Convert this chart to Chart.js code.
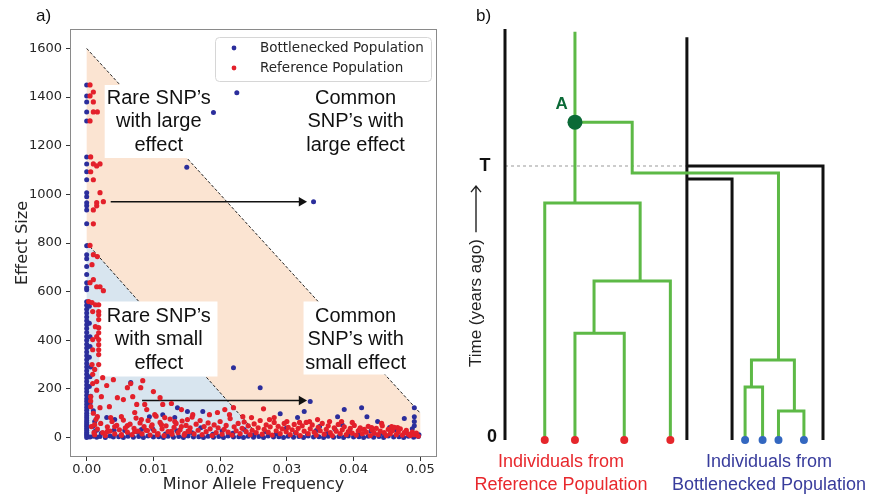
<!DOCTYPE html>
<html>
<head>
<meta charset="utf-8">
<script src="https://cdn.jsdelivr.net/npm/chart.js@4.4.1/dist/chart.umd.min.js"></script>
<style>
  html, body { margin: 0; padding: 0; background: #fff; }
  #wrap { position: relative; width: 872px; height: 494px; overflow: hidden; }
  #chartA { position: absolute; left: 0; top: 0; }
  #chartB { position: absolute; left: 440px; top: 0; }
</style>
</head>
<body>
<div id="wrap">
  <canvas id="chartA" width="445" height="494"></canvas>
  <canvas id="chartB" width="432" height="494"></canvas>
</div>
<script>
// ---- panel a) data ----
const seriesNames = ['Bottlenecked Population', 'Reference Population'];
const xTicks = [0, 0.01, 0.02, 0.03, 0.04, 0.05];
const yTicks = [0, 200, 400, 600, 800, 1000, 1200, 1400, 1600];

// [minor allele frequency, effect size]
const bottlenecked = [
  [0,0],[0,8],[0,15],[0,22],[0,30],[0,38],[0,46],[0,54],[0,62],[0,70],[0,80],[0,90],[0,100],[0,112],[0,124],
  [0,136],[0,148],[0,160],[0,174],[0,188],[0,202],[0,216],[0,230],[0,245],[0,260],[0,275],[0,290],[0,305],
  [0,320],[0,336],[0,352],[0,368],[0,384],[0,400],[0,416],[0,432],[0,448],[0,464],[0,480],[0,496],[0,512],
  [0,528],[0,544],[0,558],[0,608],[0,616],[0,637],[0,670],[0,703],[0,735],[0,752],[0,789],[0,879],[0,936],
  [0,953],[0,966],[0,990],[0,1007],[0,1060],[0,1093],[0,1125],[0,1154],[0,1302],[0,1339],[0,1380],[0,1405],[0,1450],
  [0.0004,540],[0.0004,470],[0.0005,415],[0.0005,374],[0.0004,330],[0.0006,290],[0.0005,250],[0.0004,210],
  [0.0006,170],[0.0005,140],[0.001,110],[0.0012,66],[0.0009,45],[0.0015,30],[0.003,82],[0.0042,74],[0.0012,25],
  [0.0057,29],[0.0082,33],[0.0066,226],[0.0094,86],[0.0114,94],[0.0132,82],[0.0136,123],[0.0151,107],[0.0174,107],
  [0.015,1112],[0.019,1337],[0.0225,1418],[0.034,970],[0.022,287],[0.026,205],[0.029,98],[0.0316,82],[0.0326,107],
  [0.0335,148],[0.0376,86],[0.0386,115],[0.0412,123],[0.042,86],[0.0436,66],[0.0476,78],[0.0491,123],[0.0491,86],
  [0.0491,66],[0.0491,49],[0.0454,41],[0.0349,45],[0.0383,53],[0.0498,12],
  [0.0022,18],[0.0041,30],[0.0063,12],[0.0077,22],[0.0099,35],[0.0118,15],[0.0135,28],[0.0158,20],[0.0171,40],
  [0.0189,14],[0.0203,27],[0.0219,18],[0.0236,33],[0.0251,12],[0.0268,24],[0.0284,16],[0.0299,38],[0.0313,20],
  [0.0331,14],[0.0344,29],[0.0361,18],[0.0372,35],[0.0395,22],[0.0407,13],[0.0426,27],[0.0441,17],[0.0463,31],
  [0.0479,20],[0.0488,36],
  [0.0005,2],[0.001,5],[0.0015,1],[0.002,4],[0.0028,0],[0.0035,6],[0.004,2],[0.0048,3],[0.0055,0],[0.0062,5],
  [0.007,1],[0.0078,4],[0.0085,0],[0.0092,6],[0.01,2],[0.0108,3],[0.0115,0],[0.0122,5],[0.013,1],[0.0138,4],
  [0.0145,0],[0.0152,6],[0.016,2],[0.0168,3],[0.0175,0],[0.0182,5],[0.019,1],[0.0198,4],[0.0205,0],[0.0212,6],
  [0.022,2],[0.0228,3],[0.0235,0],[0.0242,5],[0.025,1],[0.0258,4],[0.0265,0],[0.0272,6],[0.028,2],[0.0288,3],
  [0.0295,0],[0.0302,5],[0.031,1],[0.0318,4],[0.0325,0],[0.0332,6],[0.034,2],[0.0348,3],[0.0355,0],[0.0362,5],
  [0.037,1],[0.0378,4],[0.0385,0],[0.0392,6],[0.04,2],[0.0408,3],[0.0415,0],[0.0422,5],[0.043,1],[0.0438,4],
  [0.0445,0],[0.0452,6],[0.046,2],[0.0468,3],[0.0475,0],[0.0482,5],[0.049,1],[0.0497,4]
];

const reference = [
  [0.0005,1450],[0.001,1421],[0.0005,1405],[0.001,1380],[0.001,1339],[0.0016,1339],[0.0005,1302],[0.0006,1154],
  [0.001,1125],[0.0015,1117],[0.002,1125],[0.0006,1093],[0.001,1060],[0.002,1007],[0.0015,966],[0.0025,970],
  [0.001,936],[0.0015,953],[0.001,879],[0.0005,790],
  [0.001,752],[0.0016,744],[0.0008,711],[0.001,649],[0.0015,620],[0.002,620],[0.0025,604],[0.0005,637],[0.0003,559],
  [0.0008,555],[0.0013,546],[0.0018,546],[0.0018,518],[0.0018,505],[0.0018,485],[0.0018,452],[0.0018,431],
  [0.0018,403],[0.0018,382],[0.0018,361],[0.0018,341],[0.0009,518],[0.0009,403],[0.0009,361],[0.0015,415],[0.0013,456],
  [0.0008,300],[0.0012,280],[0.0009,260],[0.0018,300],[0.0015,195],[0.0006,150],[0.001,100],[0.0014,75],[0.0007,45],[0.0011,20],
  [0.0009,222],[0.0015,230],[0.0024,246],[0.003,214],[0.004,238],[0.0061,205],[0.0066,222],[0.0084,234],[0.0081,205],
  [0.01,189],[0.0006,168],[0.0006,127],[0.0022,168],[0.002,123],[0.0034,127],[0.0046,164],[0.0055,156],[0.0069,168],
  [0.0075,136],[0.0087,136],[0.009,115],[0.011,164],[0.0114,136],[0.0127,140],[0.0142,115],[0.0072,103],[0.0102,94],
  [0.0016,86],[0.0036,82],[0.0052,86],[0.0082,74],[0.0117,82],[0.0132,66],[0.0151,74],[0.0012,53],[0.0042,45],
  [0.0061,49],[0.0097,45],[0.0112,53],[0.0142,45],[0.0031,25],[0.0072,25],[0.0091,29],[0.0127,25],[0.0154,25],
  [0.0052,12],[0.0106,12],[0.0147,16],
  [0.022,123],[0.0265,118],[0.0184,94],[0.0196,103],[0.0207,115],[0.0214,94],[0.0159,94],[0.0234,86],[0.0247,82],
  [0.0274,74],[0.0281,82],[0.03,66],[0.0319,62],[0.0334,66],[0.0364,66],[0.0382,66],[0.0346,74],[0.0398,62],
  [0.0442,58],[0.0457,45],[0.0466,41],[0.0427,41],[0.0409,33],
  [0.0012,12],[0.0016,35],[0.0021,58],[0.0024,20],[0.0028,8],[0.0031,44],[0.0035,27],[0.0038,66],[0.0042,15],
  [0.0045,50],[0.0049,32],[0.0052,9],[0.0055,72],[0.0058,40],[0.0061,22],[0.0065,55],[0.0068,12],[0.0071,38],
  [0.0074,80],[0.0077,26],[0.008,60],[0.0083,15],[0.0086,45],[0.0089,30],[0.0092,70],[0.0095,10],[0.0098,52],
  [0.0101,28],[0.0104,88],[0.0107,16],[0.011,62],[0.0113,36],[0.0116,8],[0.0119,48],[0.0122,24],[0.0125,76],
  [0.0128,14],[0.0131,42],[0.0134,58],[0.0137,20],[0.014,32],[0.0143,68],[0.0146,10],[0.0149,50],[0.0152,26],
  [0.0155,40],[0.0158,84],[0.0161,15],[0.0164,55],[0.0167,30],[0.017,70],[0.0173,12],[0.0176,45],[0.0179,24],
  [0.0182,60],[0.0185,36],[0.0188,8],[0.0191,52],[0.0194,20],[0.0197,40],
  [0.02,66],[0.0203,14],[0.0206,34],[0.0209,50],[0.0212,22],[0.0215,78],[0.0218,10],[0.0221,44],[0.0224,28],
  [0.0227,58],[0.023,16],[0.0233,38],[0.0236,64],[0.0239,24],[0.0242,48],[0.0245,12],[0.0248,30],[0.0251,56],
  [0.0254,20],[0.0257,40],[0.026,70],[0.0263,14],[0.0266,34],[0.0269,52],[0.0272,22],[0.0275,44],[0.0278,10],
  [0.0281,62],[0.0284,28],[0.0287,46],[0.029,16],[0.0293,36],[0.0296,58],[0.0299,24],
  [0.0302,42],[0.0305,12],[0.0308,32],[0.0311,54],[0.0314,20],[0.0317,38],[0.032,8],[0.0323,48],[0.0326,26],
  [0.0329,62],[0.0332,16],[0.0335,36],[0.0338,52],[0.0341,22],[0.0344,10],[0.0347,42],[0.035,28],[0.0353,58],
  [0.0356,14],[0.0359,34],[0.0362,48],[0.0365,20],[0.0368,8],[0.0371,40],[0.0374,26],[0.0377,54],[0.038,16],
  [0.0383,32],[0.0386,44],[0.0389,12],[0.0392,24],[0.0395,38],[0.0398,18],
  [0.0401,50],[0.0404,10],[0.0407,28],[0.041,40],[0.0413,16],[0.0416,34],[0.0419,22],[0.0422,46],[0.0425,8],
  [0.0428,30],[0.0431,18],[0.0434,38],[0.0437,12],[0.044,26],[0.0443,48],[0.0446,20],[0.0449,8],[0.0452,34],
  [0.0455,16],[0.0458,28],[0.0461,42],[0.0464,12],[0.0467,24],[0.047,36],[0.0473,10],[0.0476,20],[0.0479,30],
  [0.0482,14],[0.0485,8],[0.0488,22],[0.0491,12],[0.0494,18],[0.0497,6]
];

// shaded regions and guide lines (data units)
const largeRegion = [[0, 1600], [0.05, 100], [0.05, 0], [0.026, 0], [0, 800]];
const smallRegion = [[0, 800], [0.026, 0], [0, 0]];
const largeEdge = [[0, 1600], [0.05, 100]];
const smallEdge = [[0, 800], [0.026, 0]];
const arrowLarge = [[0.0036, 970], [0.0322, 970]];
const arrowSmall = [[0.0083, 152], [0.0322, 152]];
const labelBoxes = [
  [0.0027, 1150, 0.0189, 1450],
  [0.0019, 251, 0.0196, 559],
  [0.0325, 259, 0.0479, 559]
];
const regionLabels = [
  ['Rare SNP’s', 'with large', 'effect'],
  ['Common', 'SNP’s with', 'large effect'],
  ['Rare SNP’s', 'with small', 'effect'],
  ['Common', 'SNP’s with', 'small effect']
];
const labelAnchors = [[0.0108, 1298], [0.0403, 1298], [0.0108, 403], [0.0403, 403]];

const blue = '#2b2e9c';
const red = '#e3202b';
const mplFont = "'DejaVu Sans', sans-serif";
const sansFont = "'Liberation Sans', Arial, sans-serif";

const pts = arr => arr.map(([x, y]) => ({ x, y }));
const boxPoly = ([x0, y0, x1, y1]) => [{ x: x0, y: y0 }, { x: x1, y: y0 }, { x: x1, y: y1 }, { x: x0, y: y1 }];

const shape = (data, color, order) => ({
  data, showLine: true, fill: 'shape', backgroundColor: color, borderColor: 'transparent',
  borderWidth: 0, pointRadius: 0, order
});
const dashed = data => ({
  data: pts(data), showLine: true, fill: false, borderColor: '#222', borderWidth: 1,
  borderDash: [3, 2], pointRadius: 0, order: 9
});
const arrow = data => ({
  data: pts(data), showLine: true, fill: false, borderColor: '#111', borderWidth: 1.5,
  pointRadius: [0, 5.5], pointStyle: 'triangle', pointRotation: 90,
  pointBackgroundColor: '#111', pointBorderWidth: 0, order: 3
});

const panelA = {
  id: 'panelA',
  afterDatasetsDraw(chart) {
    const { ctx, scales: { x, y } } = chart;
    ctx.save();
    ctx.fillStyle = '#111';
    ctx.font = '20px ' + sansFont;
    ctx.textAlign = 'center';
    ctx.textBaseline = 'middle';
    regionLabels.forEach((lines, i) => {
      const cx = x.getPixelForValue(labelAnchors[i][0]);
      const cy = y.getPixelForValue(labelAnchors[i][1]);
      lines.forEach((t, j) => ctx.fillText(t, cx, cy + (j - 1) * 23.5));
    });
    ctx.restore();
  },
  afterDraw(chart) {
    const { ctx, chartArea: a } = chart;
    ctx.save();
    // axes frame
    ctx.strokeStyle = '#8a8a8a';
    ctx.lineWidth = 1;
    ctx.strokeRect(a.left + 0.5, a.top + 0.5, a.right - a.left - 1, a.bottom - a.top - 1);
    // legend
    const lx = 215, ly = 37, lw = 216, lh = 44;
    ctx.beginPath();
    ctx.roundRect(lx + 0.5, ly + 0.5, lw, lh, 4);
    ctx.fillStyle = 'rgba(255,255,255,0.85)';
    ctx.fill();
    ctx.strokeStyle = '#d6d6d6';
    ctx.stroke();
    ctx.font = '13.5px ' + mplFont;
    ctx.textBaseline = 'middle';
    ctx.textAlign = 'left';
    [blue, red].forEach((c, i) => {
      const yy = 48 + i * 20;
      ctx.beginPath();
      ctx.arc(234, yy, 2.4, 0, Math.PI * 2);
      ctx.fillStyle = c;
      ctx.fill();
      ctx.fillStyle = '#262626';
      ctx.fillText(seriesNames[i], 260, yy);
    });
    // panel label
    ctx.fillStyle = '#111';
    ctx.font = '17px ' + sansFont;
    ctx.fillText('a)', 36, 16);
    ctx.restore();
  }
};

new Chart(document.getElementById('chartA'), {
  type: 'scatter',
  data: {
    datasets: [
      { label: seriesNames[0], data: pts(bottlenecked), backgroundColor: blue, borderColor: blue,
        pointRadius: 2.5, pointBorderWidth: 0, order: 2 },
      { label: seriesNames[1], data: pts(reference), backgroundColor: red, borderColor: red,
        pointRadius: 2.6, pointBorderWidth: 0, order: 1 },
      shape(pts(largeRegion), '#fbe4d2', 11),
      shape(pts(smallRegion), '#d8e5ef', 10),
      dashed(largeEdge),
      dashed(smallEdge),
      ...labelBoxes.map(b => shape(boxPoly(b), '#ffffff', 8)),
      arrow(arrowLarge),
      arrow(arrowSmall)
    ]
  },
  options: {
    responsive: false,
    animation: false,
    events: [],
    layout: { padding: { top: 29, right: 8, left: 0, bottom: 0 } },
    plugins: { legend: { display: false }, tooltip: { enabled: false } },
    scales: {
      x: {
        type: 'linear', min: -0.0025, max: 0.0525,
        afterBuildTicks: s => { s.ticks = xTicks.map(v => ({ value: v })); },
        afterFit: s => { s.height = 37; },
        ticks: { callback: v => v.toFixed(2), font: { family: mplFont, size: 13 }, color: '#262626',
                 padding: 1, maxRotation: 0, autoSkip: false },
        grid: { display: true, drawOnChartArea: false, drawTicks: true, tickLength: 4, tickColor: '#333' },
        border: { display: false },
        title: { display: true, text: 'Minor Allele Frequency', font: { family: mplFont, size: 16 },
                 color: '#262626', padding: { top: 0, bottom: 0 } }
      },
      y: {
        type: 'linear', min: -80, max: 1680,
        afterBuildTicks: s => { s.ticks = yTicks.map(v => ({ value: v })); },
        afterFit: s => { s.width = 70; },
        ticks: { callback: v => String(v), font: { family: mplFont, size: 13 }, color: '#262626',
                 padding: 4, autoSkip: false },
        grid: { display: true, drawOnChartArea: false, drawTicks: true, tickLength: 4, tickColor: '#333' },
        border: { display: false },
        title: { display: true, text: 'Effect Size', font: { family: mplFont, size: 16 },
                 color: '#262626', padding: { top: 13, bottom: 0 } }
      }
    }
  },
  plugins: [panelA]
});

// ---- panel b) genealogy (x: lineage position, y: time before present, T = 10) ----
const greenPaths = [
  [[22, 14.9], [22, 8.65]],
  [[22, 11.6], [40, 11.6], [40, 9.74], [86, 9.74], [86, 2.92]],
  [[12.5, 0], [12.5, 8.65], [42.5, 8.65], [42.5, 5.8]],
  [[28, 3.9], [28, 5.8], [52, 5.8], [52, 0]],
  [[22, 0], [22, 3.9], [37.5, 3.9], [37.5, 0]],
  [[77.5, 1.93], [77.5, 2.92], [91, 2.92], [91, 1.06]],
  [[75.5, 0], [75.5, 1.93], [81, 1.93], [81, 0]],
  [[86, 0], [86, 1.06], [94, 1.06], [94, 0]]
];
const blackPaths = [
  [[0, 15], [0, 0]],
  [[57.2, 14.7], [57.2, 0]],
  [[57.2, 10], [100, 10], [100, 0]],
  [[57.2, 9.53], [71.4, 9.53], [71.4, 0]]
];
const tLine = [[0, 10], [57.2, 10]];
const nodeA = [[22, 11.6]];
const refTips = [12.5, 22, 37.5, 52];
const botTips = [75.5, 81, 86, 94];

const green = '#5db946';
const darkGreen = '#0b6a37';

const pathSet = (p, color, width, order) => ({
  data: pts(p), showLine: true, fill: false, borderColor: color, borderWidth: width,
  pointRadius: 0, clip: false, order
});
const tipSet = (xs, color) => ({
  data: xs.map(x => ({ x, y: 0 })), backgroundColor: color, borderWidth: 0,
  pointRadius: 4, clip: false, order: 1
});

const panelB = {
  id: 'panelB',
  afterDraw(chart) {
    const { ctx, scales: { x, y } } = chart;
    ctx.save();
    ctx.textBaseline = 'middle';
    ctx.fillStyle = '#111';
    ctx.font = '17px ' + sansFont;
    ctx.textAlign = 'left';
    ctx.fillText('b)', 36, 16);
    ctx.textAlign = 'center';
    ctx.font = 'bold 18px ' + sansFont;
    ctx.fillText('T', 45, y.getPixelForValue(10));
    ctx.fillText('0', 52, y.getPixelForValue(0) - 3);
    ctx.fillStyle = darkGreen;
    ctx.font = 'bold 17px ' + sansFont;
    ctx.fillText('A', x.getPixelForValue(17.8), y.getPixelForValue(12.25));
    // axis title with arrow
    ctx.save();
    ctx.translate(36, 367);
    ctx.rotate(-Math.PI / 2);
    ctx.fillStyle = '#222';
    ctx.font = '17px ' + sansFont;
    ctx.textAlign = 'left';
    ctx.fillText('Time (years ago)', 0, 0);
    const w = ctx.measureText('Time (years ago)').width;
    ctx.strokeStyle = '#222';
    ctx.lineWidth = 1.4;
    ctx.beginPath();
    ctx.moveTo(w + 7, 0);
    ctx.lineTo(w + 53, 0);
    ctx.moveTo(w + 47, -5);
    ctx.lineTo(w + 53, 0);
    ctx.lineTo(w + 47, 5);
    ctx.stroke();
    ctx.restore();
    // population labels
    ctx.font = '18px ' + sansFont;
    ctx.fillStyle = '#e8282d';
    ctx.fillText('Individuals from', 121, 462);
    ctx.fillText('Reference Population', 121, 485);
    ctx.fillStyle = '#383c9c';
    ctx.fillText('Individuals from', 329, 462);
    ctx.fillText('Bottlenecked Population', 329, 485);
    ctx.restore();
  }
};

new Chart(document.getElementById('chartB'), {
  type: 'scatter',
  data: {
    datasets: [
      { data: pts(tLine), showLine: true, fill: false, borderColor: '#9a9a9a', borderWidth: 1,
        borderDash: [3, 3], pointRadius: 0, clip: false, order: 6 },
      ...blackPaths.map(p => pathSet(p, '#111', 3, 5)),
      ...greenPaths.map(p => pathSet(p, green, 3, 4)),
      { data: pts(nodeA), backgroundColor: darkGreen, borderWidth: 0, pointRadius: 7.5, clip: false, order: 2 },
      tipSet(refTips, '#e5262b'),
      tipSet(botTips, '#3367c0')
    ]
  },
  options: {
    responsive: false,
    animation: false,
    events: [],
    layout: { padding: { top: 29, right: 49, left: 65, bottom: 54 } },
    plugins: { legend: { display: false }, tooltip: { enabled: false } },
    scales: {
      x: { type: 'linear', display: false, min: 0, max: 100 },
      y: { type: 'linear', display: false, min: 0, max: 15 }
    }
  },
  plugins: [panelB]
});
</script>
</body>
</html>
